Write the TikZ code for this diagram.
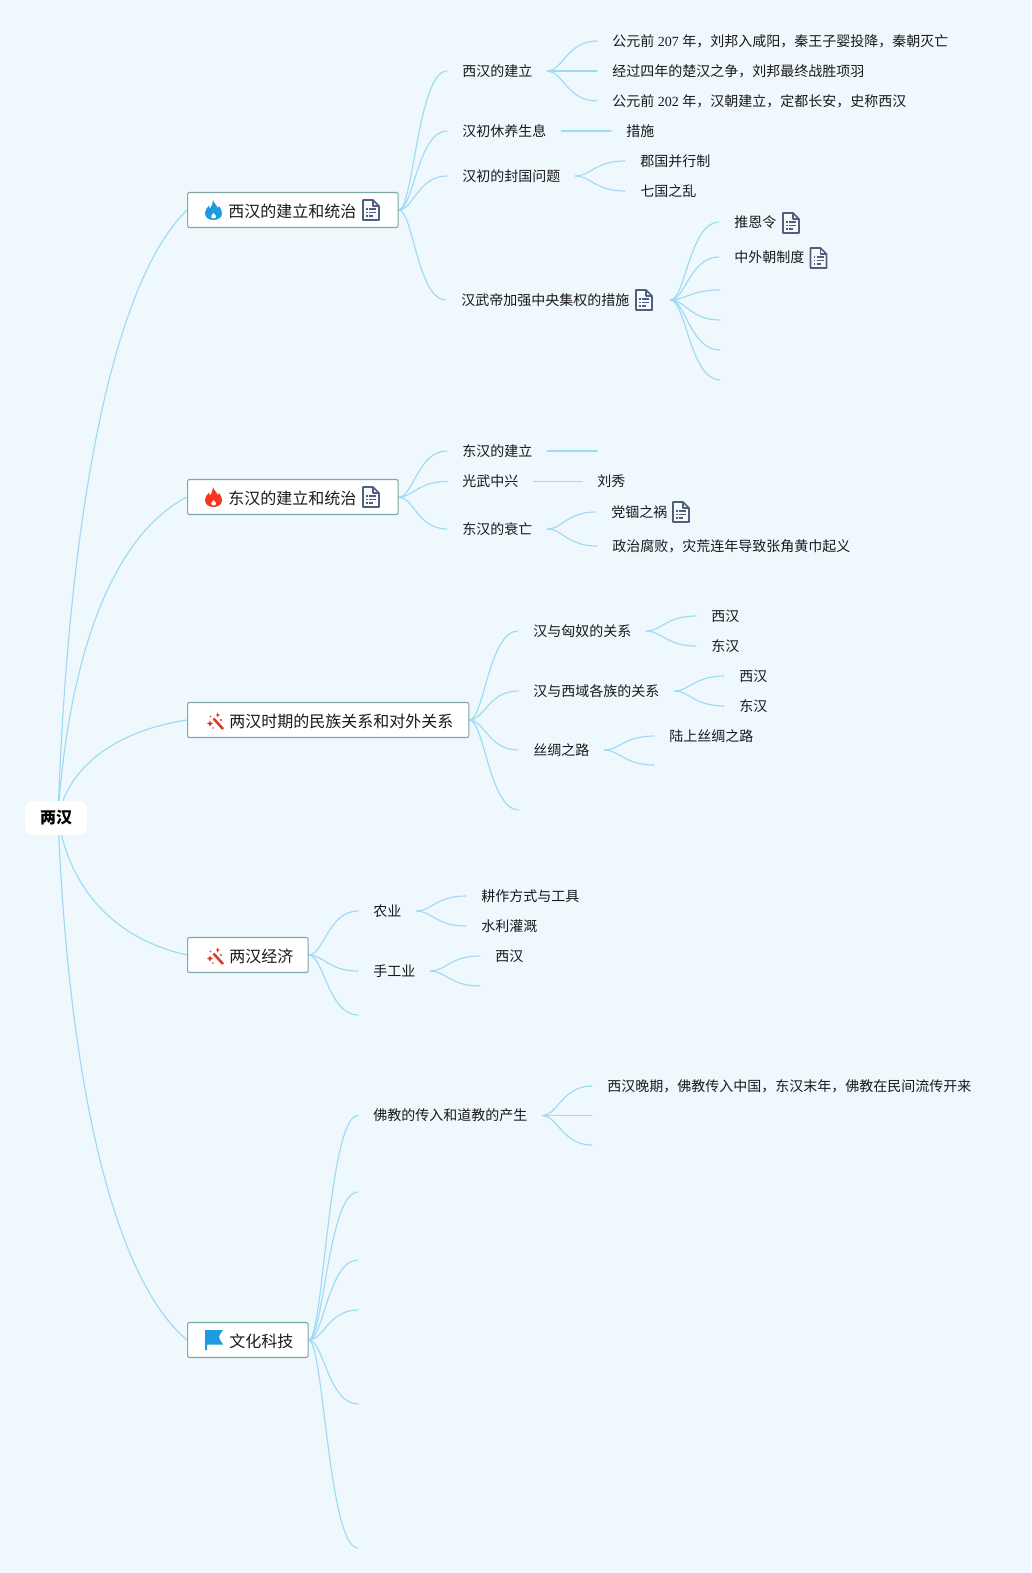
\documentclass[tikz,border=0pt]{standalone}
\usepackage{fontspec}
\setmainfont{Liberation Serif}
\newfontfamily\cjk{Noto Sans CJK SC}
\usetikzlibrary{calc,backgrounds}
\definecolor{bgc}{HTML}{EFF8FC}
\definecolor{linec}{HTML}{9DDAF4}
\definecolor{boxc}{HTML}{7FA8A6}
\definecolor{docc}{HTML}{4F5F7C}
\definecolor{firec}{HTML}{1E9BE0}
\definecolor{redc}{HTML}{F5351C}
\definecolor{wandc}{HTML}{D8392B}
\newcommand{\C}[1]{{\cjk #1}}
\tikzset{
  x=0.75pt,y=-0.75pt,
  topicbox/.style={draw=boxc,line width=0.8pt,fill=white,rounded corners=1.5pt,inner sep=0pt,minimum height=26.25pt,anchor=west},
  toptext/.style={font=\cjk\fontsize{12}{14}\selectfont,text=black!90,inner sep=0pt,anchor=west},
  leaf/.style={font=\fontsize{10.5}{13}\selectfont,text=black!90,inner xsep=11.25pt,inner ysep=0pt,anchor=west},
  link/.style={draw=linec,line width=0.85pt,line cap=round},
  doc/.pic={
    \draw[docc,line width=1.25pt,line join=round,fill=bgc!40!white] (1,1) -- (11,1) -- (17,7) -- (17,21) -- (1,21) -- cycle;
    \draw[docc,line width=1.1pt,line join=round] (11,1) -- (11,7) -- (17,7);
    \foreach \yy/\xe in {10/14,13.5/14,17/11}{
      \draw[docc,line width=1pt] (4,\yy) -- (5.5,\yy);
      \draw[docc,line width=1pt] (7,\yy) -- (\xe,\yy);
    }
  },
  flame/.pic={
    \fill[pic actions] (9,0) .. controls (10,4) and (13,5) .. (14,8) .. controls (14.5,7.5) and (15,6.5) .. (15,6) .. controls (17,9) and (18,11) .. (18,13.5) .. controls (18,17.5) and (14,20) .. (9.5,20) .. controls (4,20) and (1,17) .. (1,13) .. controls (1,10) and (3,8) .. (5,5.5) .. controls (5.3,7) and (5.5,8) .. (6,8.5) .. controls (7.5,6) and (9.5,3) .. (9,0) -- cycle;
    \fill[white] (9.5,18.5) .. controls (8,18.5) and (7,17.5) .. (7.3,16) .. controls (7.6,15) and (9,14.5) .. (9.5,13) .. controls (11,14.5) and (12,15.2) .. (12,16.5) .. controls (12,18) and (11,18.5) .. (9.5,18.5) -- cycle;
  },
  wand/.pic={
    \draw[wandc,line width=1.9pt] (7.5,6.5) -- (17,17);
    \fill[wandc] (1,11.5) -- (3,10.5) -- (4,8.5) -- (5,10.5) -- (7,11.5) -- (5,12.5) -- (4,14.5) -- (3,12.5) -- cycle;
    \fill[wandc] (9.5,3) -- (11,2.3) -- (11.7,0.5) -- (12.4,2.3) -- (14,3) -- (12.4,3.7) -- (11.7,5.5) -- (11,3.7) -- cycle;
    \fill[wandc] (15,8) circle (1.1);
    \fill[wandc] (4.5,4.5) circle (0.9);
    \fill[wandc] (7,16) circle (0.9);
  },
  flagicon/.pic={
    \fill[firec] (0,0) -- (18,0) .. controls (16,3) and (14,5) .. (14,7) .. controls (14,9) and (16,11) .. (18,14.5) -- (2,14.5) -- (2,20) -- (0,20) -- cycle;
  }
}
\newcommand{\Lk}[2]{\draw[link] let \p1=(#1),\p2=(#2) in (\p1) .. controls ({\x1+0.3*(\x2-\x1)},\y1) and ({\x1+0.4*(\x2-\x1)},\y2) .. (\p2);}
\newcommand{\Rk}[2]{\draw[link] let \p1=(#1),\p2=(#2) in (\p1) .. controls ({\x1+0.08*(\x2-\x1)},{\y1+0.5*(\y2-\y1)}) and ({\x1+0.42*(\x2-\x1)},{\y1+0.88*(\y2-\y1)}) .. (\p2);}
\begin{document}
\begin{tikzpicture}
\useasboundingbox (0,0) rectangle (1031,1573);
\begin{scope}[on background layer]
\fill[bgc] (0,0) rectangle (1031,1573);
\end{scope}
% root
\node[fill=white,rounded corners=6pt,minimum width=46.5pt,minimum height=25.5pt,inner sep=0pt,font=\cjk\bfseries\fontsize{12}{14}\selectfont] (root) at (56,818) {\raisebox{-1.5pt}{两汉}};
\coordinate (rootc) at (58,817);
% topic boxes
\node[topicbox,minimum width=158pt] (t1) at (187,210) {};
\node[topicbox,minimum width=158pt] (t2) at (187,497) {};
\node[topicbox,minimum width=211pt] (t3) at (187,720) {};
\node[topicbox,minimum width=90.5pt] (t4) at (187,955) {};
\node[topicbox,minimum width=90.5pt] (t5) at (187,1340) {};
\node[toptext] (t1l) at (228,211.5) {西汉的建立和统治};
\node[toptext] (t2l) at (228,498.5) {东汉的建立和统治};
\node[toptext] (t3l) at (229,721.5) {两汉时期的民族关系和对外关系};
\node[toptext] (t4l) at (229,956.5) {两汉经济};
\node[toptext] (t5l) at (229,1341.5) {文化科技};
\pic[color=firec,fill=firec] at (204,200) {flame};
\pic[color=redc,fill=redc] at (204,487) {flame};
\pic at (206,712) {wand};
\pic at (206,947) {wand};
\pic at (205,1330) {flagicon};
\pic at (362,199) {doc};
\pic at (362,486) {doc};
% level 2, topic 1
\node[leaf] (a1) at (447,71) {\C{西汉的建立}};
\node[leaf] (a2) at (447,131) {\C{汉初休养生息}};
\node[leaf] (a3) at (447,176) {\C{汉初的封国问题}};
\node[leaf] (a4) at (446,300) {\C{汉武帝加强中央集权的措施}\hspace*{19.5pt}};
\node[leaf] (a11) at (597,41) {\C{公元前} 207 \C{年，刘邦入咸阳，秦王子婴投降，秦朝灭亡}};
\node[leaf] (a12) at (597,71) {\C{经过四年的楚汉之争，刘邦最终战胜项羽}};
\node[leaf] (a13) at (597,101) {\C{公元前} 202 \C{年，汉朝建立，定都长安，史称西汉}};
\node[leaf] (a21) at (611,131) {\C{措施}};
\node[leaf] (a31) at (625,161) {\C{郡国并行制}};
\node[leaf] (a32) at (625,191) {\C{七国之乱}};
\node[leaf] (a41) at (719,222) {\C{推恩令}};
\node[leaf] (a42) at (719,257) {\C{中外朝制度}};
\coordinate (a43) at (720,290);
\coordinate (a44) at (720,320);
\coordinate (a45) at (720,350);
\coordinate (a46) at (720,380);
\pic at (635,289) {doc};
\pic at (782,212) {doc};
\pic at (809.5,247) {doc};
% level 2, topic 2
\node[leaf] (b1) at (447,451) {\C{东汉的建立}};
\node[leaf] (b2) at (447,481.5) {\C{光武中兴}};
\node[leaf] (b3) at (447,529) {\C{东汉的衰亡}};
\coordinate (b11) at (597,451);
\node[leaf] (b21) at (582,481.5) {\C{刘秀}};
\node[leaf] (b31) at (596,512) {\C{党锢之祸}\hspace*{26pt}};
\node[leaf] (b32) at (597,546) {\C{政治腐败，灾荒连年导致张角黄巾起义}};
\pic at (672,501) {doc};
% level 2, topic 3
\node[leaf] (c1) at (518,631) {\C{汉与匈奴的关系}};
\node[leaf] (c2) at (518,691) {\C{汉与西域各族的关系}};
\node[leaf] (c3) at (518,750) {\C{丝绸之路}};
\coordinate (c4) at (519,810);
\node[leaf] (c11) at (696,616) {\C{西汉}};
\node[leaf] (c12) at (696,646) {\C{东汉}};
\node[leaf] (c21) at (724,676) {\C{西汉}};
\node[leaf] (c22) at (724,706) {\C{东汉}};
\node[leaf] (c31) at (654,736) {\C{陆上丝绸之路}};
\coordinate (c32) at (654,765);
% level 2, topic 4
\node[leaf] (d1) at (358,911) {\C{农业}};
\node[leaf] (d2) at (358,971) {\C{手工业}};
\coordinate (d3) at (358,1015);
\node[leaf] (d11) at (466,896) {\C{耕作方式与工具}};
\node[leaf] (d12) at (466,926) {\C{水利灌溉}};
\node[leaf] (d21) at (480,956) {\C{西汉}};
\coordinate (d22) at (480,986);
% level 2, topic 5
\node[leaf] (e1) at (358,1115.5) {\C{佛教的传入和道教的产生}};
\coordinate (e2) at (358,1192);
\coordinate (e3) at (358,1260);
\coordinate (e4) at (358,1310);
\coordinate (e5) at (358,1404);
\coordinate (e6) at (358,1548);
\node[leaf] (e11) at (592,1086) {\C{西汉晚期，佛教传入中国，东汉末年，佛教在民间流传开来}};
\coordinate (e12) at (592,1115.5);
\coordinate (e13) at (592,1145);
\begin{scope}[on background layer]
\foreach \topn in {t1,t2,t3,t4,t5}{\Rk{rootc}{\topn.west}}
\foreach \cc in {a1,a2,a3,a4}{\Lk{t1.east}{\cc.west}}
\foreach \cc in {a11,a12,a13}{\Lk{a1.east}{\cc.west}}
\Lk{a2.east}{a21.west}
\foreach \cc in {a31,a32}{\Lk{a3.east}{\cc.west}}
\foreach \cc in {a41.west,a42.west,a43,a44,a45,a46}{\Lk{a4.east}{\cc}}
\foreach \cc in {b1,b2,b3}{\Lk{t2.east}{\cc.west}}
\Lk{b1.east}{b11}
\Lk{b2.east}{b21.west}
\foreach \cc in {b31,b32}{\Lk{b3.east}{\cc.west}}
\foreach \cc in {c1.west,c2.west,c3.west,c4}{\Lk{t3.east}{\cc}}
\foreach \cc in {c11,c12}{\Lk{c1.east}{\cc.west}}
\foreach \cc in {c21,c22}{\Lk{c2.east}{\cc.west}}
\foreach \cc in {c31.west,c32}{\Lk{c3.east}{\cc}}
\foreach \cc in {d1.west,d2.west,d3}{\Lk{t4.east}{\cc}}
\foreach \cc in {d11,d12}{\Lk{d1.east}{\cc.west}}
\foreach \cc in {d21.west,d22}{\Lk{d2.east}{\cc}}
\foreach \cc in {e1.west,e2,e3,e4,e5,e6}{\Lk{t5.east}{\cc}}
\foreach \cc in {e11.west,e12,e13}{\Lk{e1.east}{\cc}}
\end{scope}
\end{tikzpicture}
\end{document}
